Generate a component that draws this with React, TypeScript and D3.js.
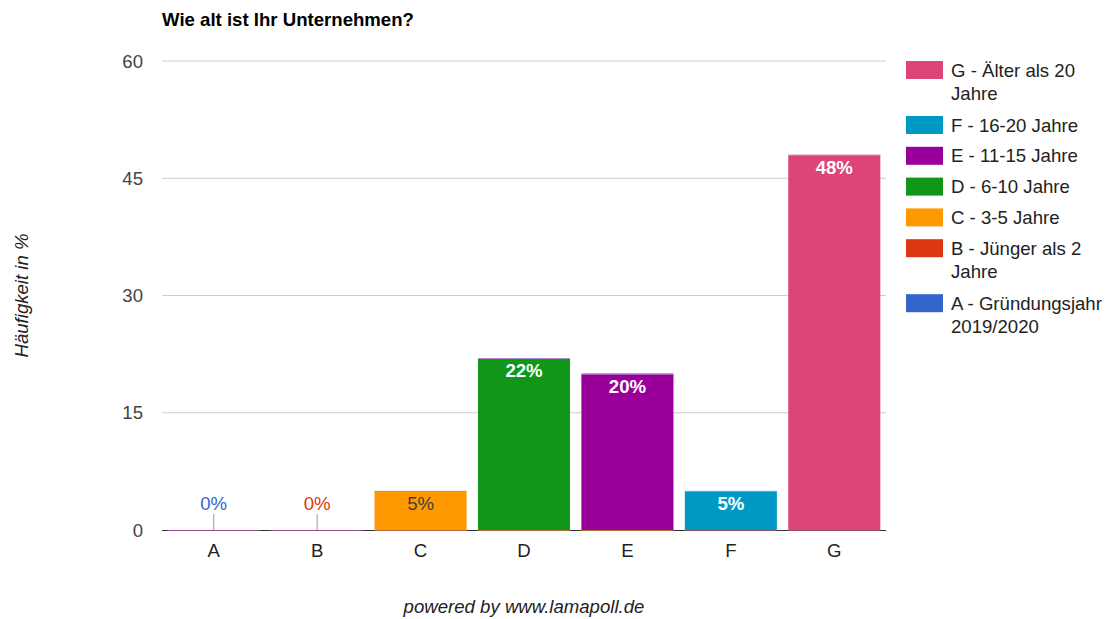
import React from "react";
import * as d3 from "d3";

// Survey answers: age of the company, share of respondents in percent
const categories = ["A", "B", "C", "D", "E", "F", "G"];
const values = [0, 0, 5, 22, 20, 5, 48];
const seriesColors = ["#3366cc", "#dc3912", "#ff9900", "#109618", "#990099", "#0099c6", "#dd4477"];
const legendLabels = [
  ["A - Gründungsjahr", "2019/2020"],
  ["B - Jünger als 2", "Jahre"],
  ["C - 3-5 Jahre"],
  ["D - 6-10 Jahre"],
  ["E - 11-15 Jahre"],
  ["F - 16-20 Jahre"],
  ["G - Älter als 20", "Jahre"],
];
const yTicks = [0, 15, 30, 45, 60];

const W = 1112;
const H = 619;
const FONT = "'Liberation Sans', Arial, sans-serif";
const FS = 18.6;

export default function App() {
  const left = 162;
  const right = 886;
  const top = 61;
  const bottom = 530;

  const x = d3.scaleBand<string>().domain(categories).range([left, right]).paddingInner(0.11).paddingOuter(0.055);
  const y = d3.scaleLinear().domain([0, 60]).range([bottom, top]);
  const bw = x.bandwidth();

  // legend lists the last series first
  const legendOrder = d3.range(categories.length).reverse();
  let rowY = 61;
  const legendRows = legendOrder.map((i) => {
    const row = { i, y: rowY };
    rowY += legendLabels[i].length > 1 ? 55 : 30.8;
    return row;
  });

  return (
    <svg width={W} height={H} style={{ position: "absolute", left: 0, top: 0, background: "#fff" }} fontFamily={FONT}>
      <text x={left} y={26} fontSize={FS} fontWeight="bold" fill="#000">
        Wie alt ist Ihr Unternehmen?
      </text>

      {yTicks.map((t) => (
        <g key={t}>
          {t !== 0 && <line x1={left} x2={right} y1={y(t)} y2={y(t)} stroke="#cccccc" strokeWidth={1} />}
          <text x={143} y={y(t) + 6.5} textAnchor="end" fontSize={FS} fill="#444">
            {t}
          </text>
        </g>
      ))}

      <text
        transform={`translate(28,${(top + bottom) / 2}) rotate(-90)`}
        textAnchor="middle"
        fontSize={FS}
        fontStyle="italic"
        fill="#222"
      >
        Häufigkeit in %
      </text>

      {categories.map((c, i) => {
        const v = values[i];
        const x0 = x(c)!;
        const cx = x0 + bw / 2;
        const yt = y(v);
        if (v === 0) {
          return (
            <g key={c}>
              <line x1={cx} x2={cx} y1={514} y2={bottom} stroke="#999" strokeWidth={1} />
              <text x={cx} y={510} textAnchor="middle" fontSize={FS} fill={seriesColors[i]}>
                {v}%
              </text>
            </g>
          );
        }
        const dark = seriesColors[i] === "#ff9900";
        return (
          <g key={c}>
            <rect x={x0} y={yt} width={bw} height={bottom - yt} fill={seriesColors[i]} />
            <line x1={x0} x2={x0 + bw} y1={yt + 0.5} y2={yt + 0.5} stroke="#b18ccf" strokeWidth={1} />
            <text
              x={cx}
              y={yt + 19}
              textAnchor="middle"
              fontSize={FS}
              fontWeight={dark ? "normal" : "bold"}
              fill={dark ? "#404040" : "#ffffff"}
            >
              {v}%
            </text>
          </g>
        );
      })}

      <line x1={left} x2={right} y1={bottom + 0.5} y2={bottom + 0.5} stroke="#333" strokeWidth={1} />
      {categories.map((c, i) => (
        <line
          key={c}
          x1={x(c)!}
          x2={x(c)! + bw}
          y1={bottom + 0.5}
          y2={bottom + 0.5}
          stroke={values[i] === 0 ? "#8e4d8e" : i < 5 ? "#b0703a" : "#8a5060"}
          strokeWidth={1}
        />
      ))}

      {categories.map((c) => (
        <text key={c} x={x(c)! + bw / 2} y={557} textAnchor="middle" fontSize={FS} fill="#222">
          {c}
        </text>
      ))}

      {legendRows.map(({ i, y: ry }) => (
        <g key={i}>
          <rect x={906} y={ry} width={37} height={18} fill={seriesColors[i]} />
          {legendLabels[i].map((line, k) => (
            <text key={k} x={951} y={ry + 15.5 + k * 23} fontSize={FS} fill="#222">
              {line}
            </text>
          ))}
        </g>
      ))}

      <text x={(left + right) / 2} y={613} textAnchor="middle" fontSize={FS} fontStyle="italic" fill="#222">
        powered by www.lamapoll.de
      </text>
    </svg>
  );
}
